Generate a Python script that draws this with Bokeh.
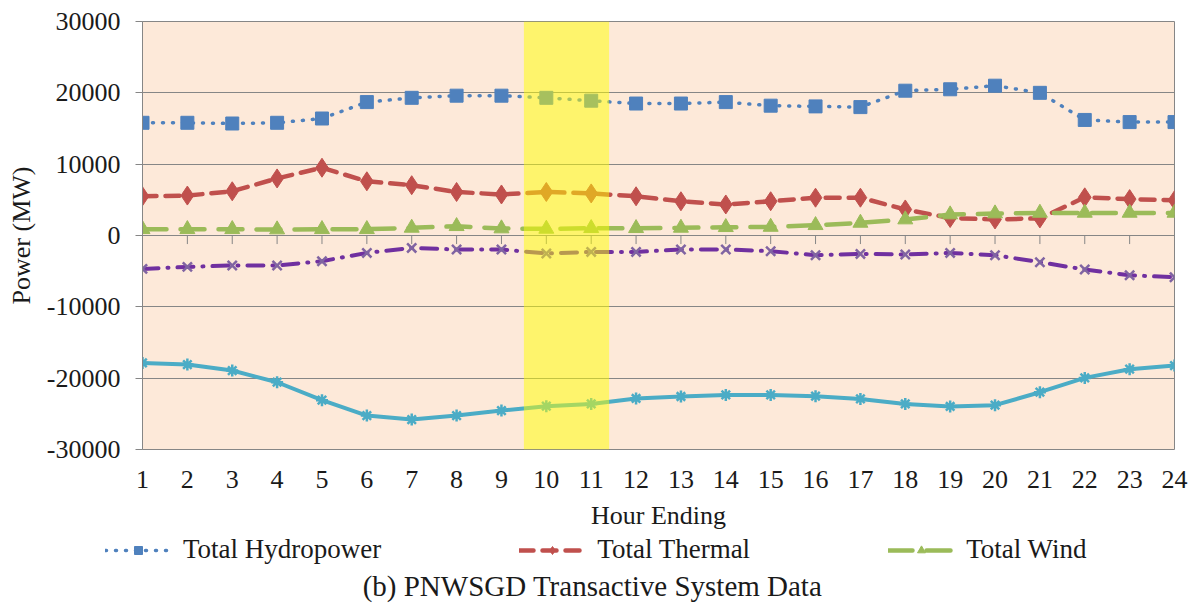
from bokeh.plotting import figure
from bokeh.models import (Range1d, FixedTicker, PrintfTickFormatter, Legend, LegendItem,
                          BoxAnnotation, Label)
from bokeh.embed import file_html
from bokeh.resources import INLINE

# Hourly system data (MW)
hours = list(range(1, 25))
hydropower = [15800, 15800, 15700, 15800, 16400, 18700, 19300, 19600, 19600, 19300, 18900, 18500,
              18500, 18700, 18200, 18100, 18000, 20300, 20500, 21000, 20000, 16200, 15900, 15900]
thermal = [5500, 5600, 6200, 8000, 9500, 7600, 7050, 6100, 5750, 6100, 5900, 5500,
           4800, 4350, 4800, 5300, 5300, 3650, 2450, 2250, 2400, 5350, 5100, 4950]
wind = [880, 880, 880, 840, 880, 880, 1070, 1300, 980, 930, 1020, 1020,
        1070, 1160, 1200, 1440, 1770, 2240, 2940, 3080, 3170, 3170, 3170, 3170]
interchange = [-4680, -4400, -4200, -4200, -3600, -2440, -1740, -1960, -1960, -2520, -2300, -2300,
               -1960, -1960, -2200, -2760, -2580, -2660, -2440, -2760, -3740, -4770, -5570, -5850]
load = [-17860, -18090, -18930, -20570, -23090, -25240, -25800, -25240, -24540, -23930, -23610, -22850,
        -22570, -22350, -22350, -22530, -22910, -23610, -23970, -23790, -21970, -19960, -18740, -18230]
y_ticks = [-30000, -20000, -10000, 0, 10000, 20000, 30000]
highlight = (9.5, 11.4)

FONT = "Liberation Serif"
GRID = "#868686"
TXT = "#1a1a1a"

# series styles, shared by the chart and its legend strip
STYLES = {
    "hydro": dict(line=dict(line_color="#4F81BD", line_width=3.5, line_dash="1 9", line_cap="round"),
                  mark=dict(marker="square", size=13, fill_color="#4F81BD", line_color="#4F81BD")),
    "thermal": dict(line=dict(line_color="#C0504D", line_width=4.5, line_dash="14 9", line_cap="round"),
                    mark=dict(marker="diamond", size=19, fill_color="#C0504D", line_color="#C0504D")),
    "wind": dict(line=dict(line_color="#9BBB59", line_width=4.5, line_dash="24 14", line_cap="round"),
                 mark=dict(marker="triangle", size=15, fill_color="#9BBB59", line_color="#9BBB59")),
}

p = figure(width=1192, height=500, output_backend="svg", toolbar_location=None,
           x_range=Range1d(1, 24), y_range=Range1d(-30000, 30000),
           min_border_left=142, min_border_right=18, min_border_top=21, min_border_bottom=51,
           background_fill_color="#FDE9D9", border_fill_color="white",
           outline_line_color=GRID)

# axes
p.xaxis.ticker = FixedTicker(ticks=hours)
p.xaxis.axis_line_color = None
p.xaxis.major_tick_line_color = None
p.xaxis.minor_tick_line_color = None
p.xaxis.major_tick_out = 0
p.xaxis.major_tick_in = 0
p.xaxis.major_label_standoff = 21
p.xgrid.grid_line_color = None

p.yaxis.ticker = FixedTicker(ticks=y_ticks)
p.yaxis.formatter = PrintfTickFormatter(format="%d")
p.yaxis.axis_line_color = GRID
p.yaxis.major_tick_line_color = GRID
p.yaxis.minor_tick_line_color = None
p.yaxis.major_tick_out = 7
p.yaxis.major_tick_in = 0
p.yaxis.major_label_standoff = 15
p.yaxis.axis_label = "Power (MW)"
p.yaxis.axis_label_standoff = 8
p.ygrid.ticker = FixedTicker(ticks=y_ticks)
p.ygrid.grid_line_color = GRID
p.ygrid.grid_line_width = 1

for ax in (p.xaxis, p.yaxis):
    ax.major_label_text_font = FONT
    ax.major_label_text_font_size = "26px"
    ax.major_label_text_color = TXT
    ax.axis_label_text_font = FONT
    ax.axis_label_text_font_size = "26px"
    ax.axis_label_text_font_style = "normal"
    ax.axis_label_text_color = TXT

# category tick marks along the zero line
p.segment(x0=hours, y0=[0] * len(hours), x1=hours, y1=[-1200] * len(hours),
          line_color=GRID, line_width=1)

# series
p.line(hours, hydropower, **STYLES["hydro"]["line"])
p.scatter(hours, hydropower, **STYLES["hydro"]["mark"])
p.line(hours, thermal, **STYLES["thermal"]["line"])
p.scatter(hours, thermal, **STYLES["thermal"]["mark"])
p.line(hours, wind, **STYLES["wind"]["line"])
p.scatter(hours, wind, **STYLES["wind"]["mark"])
p.line(hours, interchange, line_color="#7030A0", line_width=4, line_dash="16 9 1 9", line_cap="round")
p.scatter(hours, interchange, marker="x", size=13, line_color="#8064A2", line_width=2.5)
p.line(hours, load, line_color="#4BACC6", line_width=4)
p.scatter(hours, load, marker="asterisk", size=12, line_color="#4BACC6", line_width=2.5)

# highlighted hours
p.add_layout(BoxAnnotation(left=highlight[0], right=highlight[1], fill_color="#FFFF00",
                           fill_alpha=0.5, line_color=None))

# strip below the chart: axis title, legend and caption (pixel-like coordinates)
s = figure(width=1192, height=105, output_backend="svg", toolbar_location=None,
           x_range=Range1d(0, 1192), y_range=Range1d(0, 105),
           x_axis_location=None, y_axis_location=None,
           min_border=0, outline_line_color=None,
           background_fill_color="white", border_fill_color="white")
s.grid.visible = False

s.add_layout(Label(x=658, y=90, text="Hour Ending", text_align="center", text_baseline="middle",
                   text_font=FONT, text_font_size="26px", text_color=TXT))

nan = float("nan")
items = []
for key, label in [("hydro", "Total Hydropower"), ("thermal", "Total Thermal"), ("wind", "Total Wind")]:
    r_line = s.line([nan, nan], [nan, nan], **STYLES[key]["line"])
    r_mark = s.scatter([nan], [nan], **STYLES[key]["mark"])
    items.append(LegendItem(label=label, renderers=[r_line, r_mark]))

legend = Legend(items=items, orientation="horizontal", location=(105, 40),
                label_text_font=FONT, label_text_font_size="27px", label_text_color=TXT,
                glyph_width=66, glyph_height=20, label_standoff=12, spacing=138,
                padding=0, margin=0, border_line_color=None, background_fill_alpha=0)
s.add_layout(legend, "center")

s.add_layout(Label(x=592, y=20, text="(b) PNWSGD Transactive System Data", text_align="center",
                   text_baseline="middle", text_font=FONT, text_font_size="29px", text_color=TXT))

# two independent roots stacked on the page
open("out.html", "w").write(file_html([p, s], INLINE))
